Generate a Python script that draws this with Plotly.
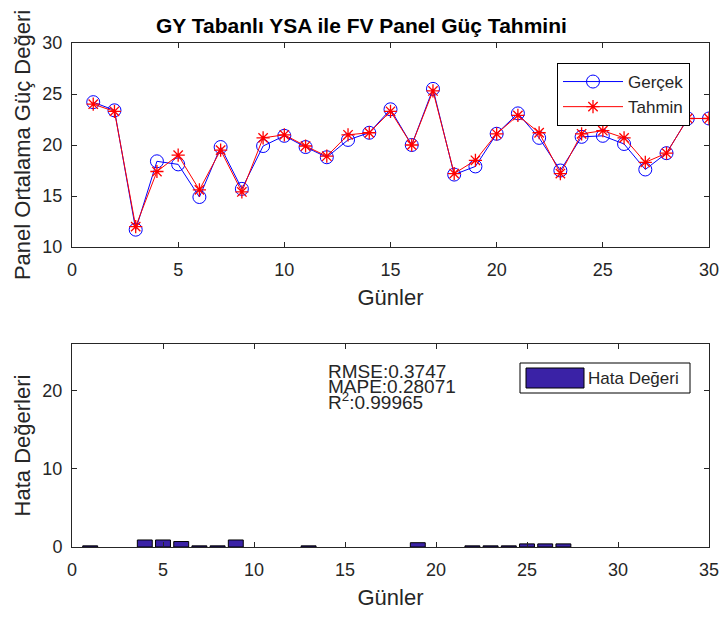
import plotly.graph_objects as go

# gunler (days) and measured / predicted panel power
gunler = list(range(1, 31))
gercek = [24.2, 23.4, 11.7, 18.4, 18.1, 14.9, 19.8, 15.7, 19.9, 20.9,
          19.8, 18.8, 20.5, 21.2, 23.5, 20.0, 25.5, 17.1, 17.9, 21.1,
          23.1, 20.7, 17.5, 20.8, 20.9, 20.1, 17.6, 19.2, 22.6, 22.6]
tahmin = [24.0, 23.3, 12.0, 17.4, 19.0, 15.6, 19.5, 15.4, 20.7, 21.0,
          19.9, 18.9, 21.0, 21.2, 23.3, 20.0, 25.3, 17.2, 18.5, 21.1,
          22.9, 21.2, 17.2, 21.1, 21.4, 20.7, 18.3, 19.2, 22.6, 22.6]
# error bars (None = no visible bar)
hata = [0.15, None, None, 0.9, 0.9, 0.7, 0.15, 0.15, 0.9, None,
        None, None, 0.15, None, None, None, None, None, 0.55, None,
        None, 0.15, 0.15, 0.15, 0.4, 0.4, 0.4, None, None, None]
stats = ["RMSE:0.3747", "MAPE:0.28071", "R<sup>2</sup>:0.99965"]

font = "Liberation Sans, Arial, sans-serif"
ax_col = "#262626"
bar_col = "#3A22A6"

# body margin is removed in post_script, so figure pixels == screenshot pixels
W, H = 724, 617
L, R, T, B = 72, 15, 43, 70
plot_h = H - T - B


def px(x):
    return (x - L) / (W - L - R)


def py(y):
    return (H - B - y) / plot_h


fig = go.Figure()

fig.add_trace(go.Scatter(
    x=gunler, y=gercek, name="Gerçek", mode="lines+markers",
    line=dict(color="#0000FF", width=1),
    marker=dict(symbol="circle-open", size=13, color="#0000FF", line=dict(width=1)),
    xaxis="x", yaxis="y"
))
fig.add_trace(go.Scatter(
    x=gunler, y=tahmin, name="Tahmin", mode="lines+markers",
    line=dict(color="#FF0000", width=1),
    marker=dict(symbol="asterisk-open", size=11, color="#FF0000", line=dict(width=1.3, color="#FF0000")),
    xaxis="x", yaxis="y"
))
fig.add_trace(go.Bar(
    x=gunler, y=hata, name="Hata Değeri", width=0.82, showlegend=False,
    marker=dict(color=bar_col, line=dict(color="black", width=1)),
    xaxis="x2", yaxis="y2"
))

axis_common = dict(
    showgrid=False, zeroline=False, showline=True, linecolor=ax_col, linewidth=1,
    mirror="ticks", ticks="inside", ticklen=5, tickcolor=ax_col, automargin=False,
    ticklabeloverflow="allow",
    tickfont=dict(family=font, size=18, color="#262626"),
    title_font=dict(family=font, size=22, color="#262626"),
)
x_common = dict(ticklabelstandoff=6, **axis_common)
y_common = dict(ticklabelstandoff=5, **axis_common)

fig.update_layout(
    width=W, height=H,
    margin=dict(l=L, r=R, t=T, b=B),
    paper_bgcolor="white", plot_bgcolor="white",
    font=dict(family=font, color="#262626"),
    title=dict(text="<b>GY Tabanlı YSA ile FV Panel Güç Tahmini</b>",
               x=px(390), xanchor="center", y=1 - 26 / H, yanchor="middle",
               font=dict(family=font, size=21, color="black")),
    xaxis=dict(domain=[0, 1], anchor="y", range=[0, 30], dtick=5,
               title=dict(text="Günler", standoff=11), **x_common),
    yaxis=dict(domain=[py(247), 1], anchor="x", range=[10, 30], dtick=5,
               title=dict(text="Panel Ortalama Güç Değeri", standoff=5), **y_common),
    xaxis2=dict(domain=[0, 1], anchor="y2", range=[0, 35], dtick=5,
                title=dict(text="Günler", standoff=11), **x_common),
    yaxis2=dict(domain=[0, py(344)], anchor="x2", range=[0, 26], dtick=10,
                title=dict(text="Hata Değerleri", standoff=5), **y_common),
    legend=dict(x=px(690), xanchor="right", y=py(63), yanchor="top",
                bgcolor="white", bordercolor="black", borderwidth=1,
                font=dict(family=font, size=17, color="#262626"),
                itemwidth=60, tracegroupgap=0),
    showlegend=True,
)

# legend box for the error bars (drawn by hand to get MATLAB's wide swatch)
fig.add_shape(type="rect", xref="paper", yref="paper",
              x0=px(520), x1=px(690), y0=py(393), y1=py(363),
              line=dict(color="black", width=1), fillcolor="white")
fig.add_shape(type="rect", xref="paper", yref="paper",
              x0=px(526), x1=px(584), y0=py(388), y1=py(368),
              line=dict(color="black", width=1), fillcolor=bar_col)
fig.add_annotation(text="Hata Değeri", xref="paper", yref="paper",
                   x=px(586), xanchor="left", y=py(378), yanchor="middle",
                   showarrow=False, font=dict(family=font, size=17, color="#262626"))

for i, s in enumerate(stats):
    fig.add_annotation(text=s, xref="paper", yref="paper",
                       x=px(326), xanchor="left",
                       y=py(371 + i * 15), yanchor="middle",
                       showarrow=False,
                       font=dict(family=font, size=19, color="#262626"))

fig.write_html("out.html", config={"displayModeBar": False},
               post_script="document.body.style.margin='0';document.body.style.overflow='hidden';")
